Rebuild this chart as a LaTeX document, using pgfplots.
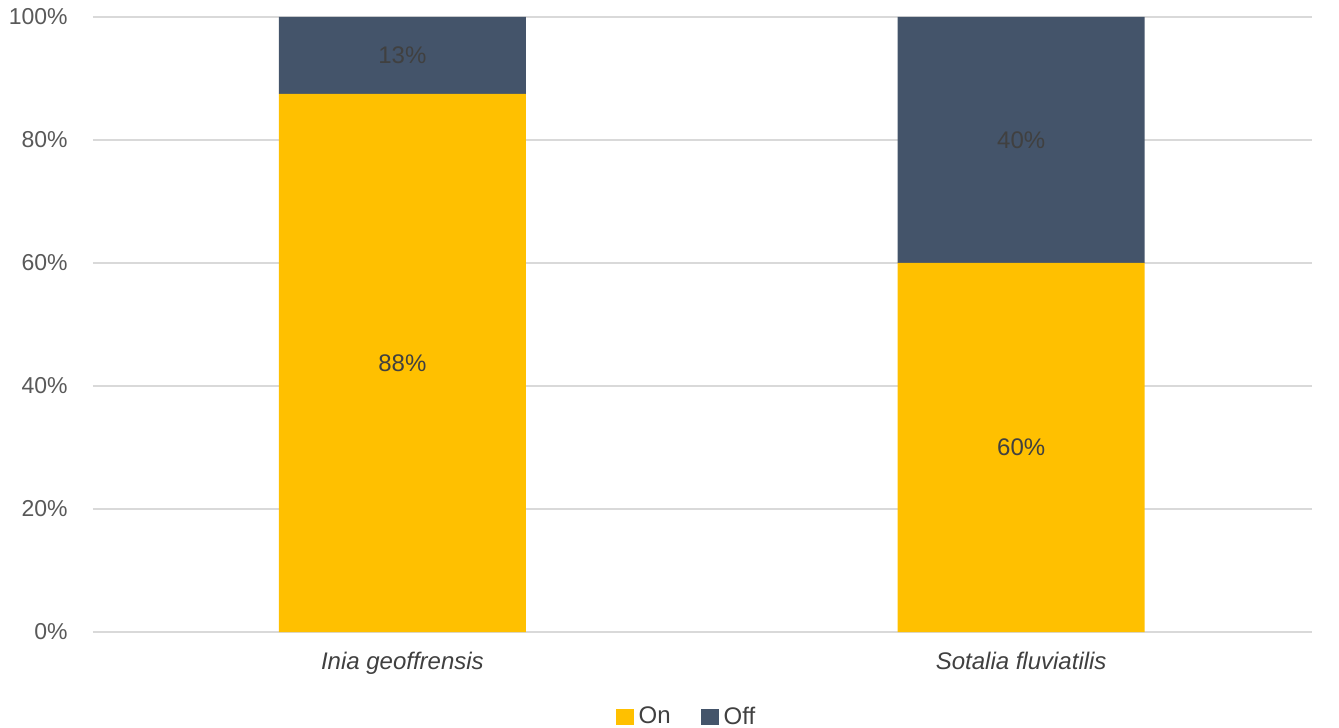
\documentclass[border=0pt]{standalone}
\usepackage{fontspec}
\setmainfont{Liberation Sans}
\usepackage{pgfplots}
\usepackage{pgfplotstable}
\pgfplotsset{compat=1.18}

\definecolor{onc}{HTML}{FFC000}
\definecolor{offc}{HTML}{44546A}
\definecolor{gridc}{HTML}{D9D9D9}
\definecolor{tickc}{HTML}{595959}
\definecolor{labc}{HTML}{404040}

% share of recordings per species
\pgfplotstableread{
x on off
0 87.5 12.5
1 60 40
}\datatable

\begin{document}
\begin{tikzpicture}[font=\fontsize{11.5pt}{13pt}\selectfont]
\begin{axis}[
  scale only axis,
  width=609.5pt, height=307.5pt,
  ybar stacked,
  bar width=123.5pt,
  xmin=-0.5, xmax=1.47,
  ymin=0, ymax=100,
  ytick={0,20,40,60,80,100},
  yticklabel={\pgfmathprintnumber{\tick}\%},
  /pgf/number format/assume math mode=true,
  xtick={0,1},
  xticklabels={Inia geoffrensis, Sotalia fluviatilis},
  axis line style={draw=none},
  major tick length=0pt,
  ymajorgrids,
  grid style={gridc, line width=0.6pt},
  yticklabel style={anchor=east, inner sep=0pt, xshift=-12.5pt, text=tickc,
    font=\fontsize{11.5pt}{13pt}\selectfont},
  xticklabel style={anchor=north, inner sep=0pt, yshift=-10pt, text=labc,
    font=\fontsize{12pt}{14pt}\selectfont\itshape},
  legend columns=2,
  legend style={at={(0.5,0)}, anchor=center, yshift=-42.5pt, xshift=-7.25pt,
    draw=none, fill=none, font=\fontsize{12pt}{14pt}\selectfont,
    /tikz/every even column/.append style={column sep=12.5pt},
    nodes={inner xsep=2.5pt, inner ysep=1.5pt, text=labc}},
  legend image code/.code={\fill[#1] (0pt,-4pt) rectangle (9pt,4pt);},
  point meta=explicit,
  nodes near coords={\pgfmathprintnumber[fixed,precision=0]{\pgfplotspointmeta}\%},
  every node near coord/.append style={anchor=center, text=labc,
    font=\fontsize{12pt}{14pt}\selectfont,
    /pgf/number format/assume math mode=true},
]
\addplot[fill=onc, draw=none] table[x=x, y=on, meta=on] \datatable;
\addlegendentry{On}
\addplot[fill=offc, draw=none] table[x=x, y=off, meta=off] \datatable;
\addlegendentry{Off}
\end{axis}
\pgfresetboundingbox
\path (current axis.south west) ++(-46.5pt,-48pt) rectangle ++(669.5pt,364pt);
\end{tikzpicture}
\end{document}
